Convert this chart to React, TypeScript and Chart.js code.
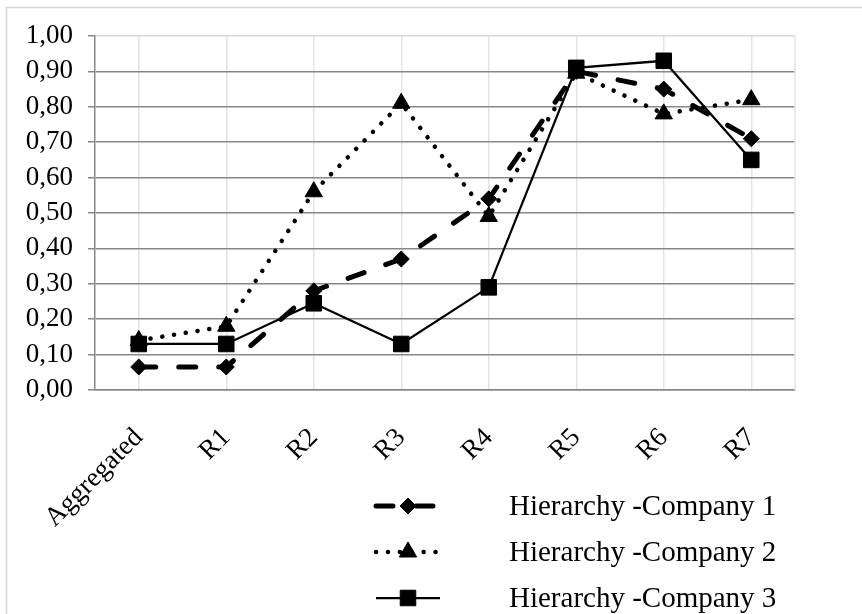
import React, { useEffect, useRef } from 'react';
import { Chart, registerables } from 'chart.js';

Chart.register(...registerables);

const categories = ['Aggregated', 'R1', 'R2', 'R3', 'R4', 'R5', 'R6', 'R7'];
const company1 = [0.065, 0.065, 0.28, 0.37, 0.54, 0.9, 0.85, 0.71];
const company2 = [0.14, 0.18, 0.56, 0.81, 0.49, 0.895, 0.78, 0.82];
const company3 = [0.13, 0.13, 0.245, 0.13, 0.29, 0.91, 0.93, 0.65];
const seriesNames = ['Hierarchy -Company 1', 'Hierarchy -Company 2', 'Hierarchy -Company 3'];
const yMin = 0;
const yMax = 1;
const yStep = 0.1;

const FONT = '"Liberation Serif", "Times New Roman", serif';
const GRID_DARK = '#878787';
const GRID_LIGHT = '#e4e4e4';

function drawMarker(ctx: CanvasRenderingContext2D, style: string, r: number, x: number, y: number) {
  ctx.save();
  ctx.setLineDash([]);
  ctx.fillStyle = '#000';
  ctx.strokeStyle = '#000';
  ctx.lineWidth = 1;
  ctx.beginPath();
  if (style === 'rectRot') {
    ctx.moveTo(x, y - r);
    ctx.lineTo(x + r, y);
    ctx.lineTo(x, y + r);
    ctx.lineTo(x - r, y);
    ctx.closePath();
  } else if (style === 'triangle') {
    ctx.moveTo(x, y - r);
    ctx.lineTo(x + r * Math.sin((2 * Math.PI) / 3), y + r / 2);
    ctx.lineTo(x - r * Math.sin((2 * Math.PI) / 3), y + r / 2);
    ctx.closePath();
  } else {
    const h = r * Math.SQRT1_2;
    ctx.rect(x - h, y - h, 2 * h, 2 * h);
  }
  ctx.fill();
  ctx.stroke();
  ctx.restore();
}

const framePlugin = {
  id: 'frame',
  beforeDraw(chart: any) {
    const { ctx, width, height } = chart;
    ctx.save();
    ctx.fillStyle = '#fff';
    ctx.fillRect(0, 0, width, height);
    ctx.strokeStyle = '#d6d6d6';
    ctx.lineWidth = 1.5;
    ctx.beginPath();
    ctx.moveTo(6.5, height);
    ctx.lineTo(6.5, 7.5);
    ctx.lineTo(width, 7.5);
    ctx.stroke();
    ctx.restore();
  },
  beforeDatasetsDraw(chart: any) {
    const { ctx, chartArea } = chart;
    ctx.save();
    ctx.strokeStyle = GRID_LIGHT;
    ctx.lineWidth = 1.5;
    ctx.beginPath();
    ctx.moveTo(chartArea.right, chartArea.top);
    ctx.lineTo(chartArea.right, chartArea.bottom);
    ctx.stroke();
    ctx.restore();
  },
};

const legendPlugin = {
  id: 'customLegend',
  afterDraw(chart: any) {
    const { ctx, chartArea } = chart;
    const x0 = 376;
    const x1 = 440;
    const textX = 509;
    const firstY = chartArea.bottom + 116;
    const rowGap = 46;
    chart.data.datasets.forEach((ds: any, i: number) => {
      const y = firstY + i * rowGap;
      ctx.save();
      ctx.strokeStyle = '#000';
      ctx.lineWidth = ds.borderWidth;
      ctx.lineCap = ds.borderCapStyle || 'butt';
      ctx.setLineDash(ds.borderDash || []);
      ctx.beginPath();
      ctx.moveTo(x0, y);
      ctx.lineTo(x1, y);
      ctx.stroke();
      ctx.restore();
      drawMarker(ctx, ds.pointStyle, ds.pointRadius, (x0 + x1) / 2, y);
      ctx.save();
      ctx.fillStyle = '#000';
      ctx.font = `29px ${FONT}`;
      ctx.textBaseline = 'middle';
      ctx.textAlign = 'left';
      ctx.fillText(ds.label, textX, y + 1);
      ctx.restore();
    });
  },
};

export default function App() {
  const ref = useRef<HTMLCanvasElement>(null);
  useEffect(() => {
    const chart = new Chart(ref.current!, {
      type: 'line',
      data: {
        labels: categories,
        datasets: [
          {
            label: seriesNames[0],
            data: company1,
            borderColor: '#000',
            backgroundColor: '#000',
            borderWidth: 5,
            borderDash: [17, 23],
            borderCapStyle: 'round',
            pointStyle: 'rectRot',
            pointRadius: 8,
            pointBackgroundColor: '#000',
            pointBorderColor: '#000',
            pointBorderWidth: 1,
            tension: 0,
            order: 3,
          },
          {
            label: seriesNames[1],
            data: company2,
            borderColor: '#000',
            backgroundColor: '#000',
            borderWidth: 4.5,
            borderDash: [0.1, 11.8],
            borderCapStyle: 'round',
            pointStyle: 'triangle',
            pointRadius: 10,
            pointBackgroundColor: '#000',
            pointBorderColor: '#000',
            pointBorderWidth: 1,
            tension: 0,
            order: 2,
          },
          {
            label: seriesNames[2],
            data: company3,
            borderColor: '#000',
            backgroundColor: '#000',
            borderWidth: 2.25,
            pointStyle: 'rect',
            pointRadius: 11,
            pointBackgroundColor: '#000',
            pointBorderColor: '#000',
            pointBorderWidth: 1,
            tension: 0,
            order: 1,
          },
        ] as any,
      },
      options: {
        responsive: false,
        animation: false,
        devicePixelRatio: 1,
        events: [],
        layout: { padding: { left: 0, right: 67, top: 36, bottom: 0 } },
        plugins: {
          legend: { display: false },
          tooltip: { enabled: false },
          title: { display: false },
        },
        scales: {
          x: {
            offset: true,
            grid: {
              display: true,
              offset: false,
              drawTicks: false,
              color: GRID_LIGHT,
              lineWidth: 1.5,
            },
            border: { display: true, color: GRID_DARK, width: 1.5 },
            ticks: {
              autoSkip: false,
              maxRotation: 45,
              minRotation: 45,
              padding: 32,
              color: '#000',
              font: { family: FONT, size: 27 },
            },
            afterFit: (s: any) => {
              s.height = 224;
            },
          },
          y: {
            min: yMin,
            max: yMax,
            grid: {
              display: true,
              drawTicks: true,
              tickLength: 7,
              tickColor: GRID_DARK,
              lineWidth: 1.5,
              color: (c: any) => (c.tick && c.tick.value >= yMax - 1e-6 ? '#d9d9d9' : GRID_DARK),
            },
            border: { display: true, color: GRID_DARK, width: 1.5 },
            ticks: {
              stepSize: yStep,
              padding: 15,
              color: '#000',
              font: { family: FONT, size: 27 },
              callback: (v: any) => Number(v).toFixed(2).replace('.', ','),
            },
            afterFit: (s: any) => {
              s.width = 95;
            },
          },
        },
      },
      plugins: [framePlugin, legendPlugin],
    });
    return () => chart.destroy();
  }, []);
  return (
    <div style={{ position: 'fixed', left: 0, top: 0, width: 862, height: 614, background: '#fff' }}>
      <canvas ref={ref} width={862} height={614} style={{ display: 'block', width: 862, height: 614 }} />
    </div>
  );
}
